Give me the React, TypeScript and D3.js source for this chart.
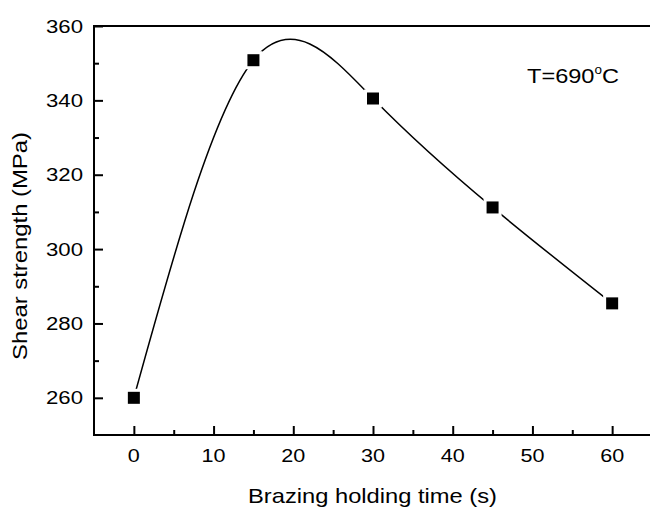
import * as d3 from 'd3';
import React, { useEffect, useRef } from 'react';

const times = [0, 15, 30, 45, 60];
const strength = [260, 350.8, 340.5, 311.2, 285.4];
const xTicks = [0, 10, 20, 30, 40, 50, 60];
const yTicks = [260, 280, 300, 320, 340, 360];

const App = () => {
  const ref = useRef<SVGSVGElement>(null);

  useEffect(() => {
    const width = 650;
    const height = 508;
    const margin = { top: 26, right: -2, bottom: 73, left: 94 };
    const font = 'Arial, "Liberation Sans", sans-serif';

    const svg = d3.select(ref.current);
    svg.selectAll('*').remove();
    svg.attr('width', width).attr('height', height);

    const x = d3.scaleLinear().domain([-5, 65]).range([margin.left, width - margin.right]);
    const y = d3.scaleLinear().domain([250, 360]).range([height - margin.bottom, margin.top]);

    const data = times.map((t, i) => ({ t, v: strength[i] }));

    // spline through the points
    const line = d3.line<{ t: number; v: number }>()
      .x(d => x(d.t))
      .y(d => y(d.v))
      .curve(d3.curveNatural);

    svg.append('path')
      .datum(data)
      .attr('d', line)
      .attr('fill', 'none')
      .attr('stroke', '#000')
      .attr('stroke-width', 1.5);

    // white gaps round the markers, then the markers
    svg.selectAll('rect.gap')
      .data(data)
      .join('rect')
      .attr('class', 'gap')
      .attr('x', d => x(d.t) - 9)
      .attr('y', d => y(d.v) - 9)
      .attr('width', 18)
      .attr('height', 18)
      .attr('fill', '#fff');

    svg.selectAll('rect.mark')
      .data(data)
      .join('rect')
      .attr('class', 'mark')
      .attr('x', d => x(d.t) - 6)
      .attr('y', d => y(d.v) - 6)
      .attr('width', 12)
      .attr('height', 12)
      .attr('fill', '#000');

    // frame
    svg.append('rect')
      .attr('x', margin.left)
      .attr('y', margin.top)
      .attr('width', width - margin.right - margin.left)
      .attr('height', height - margin.bottom - margin.top)
      .attr('fill', 'none')
      .attr('stroke', '#000')
      .attr('stroke-width', 2);

    // x axis
    const gx = svg.append('g').attr('transform', `translate(0, ${height - margin.bottom})`);
    gx.call(d3.axisBottom(x).tickValues(d3.range(-5, 66, 5)).tickFormat(() => ''));
    gx.select('.domain').remove();
    gx.selectAll('.tick').filter((d: any) => d < 0).remove();
    gx.selectAll('.tick line')
      .attr('y2', (d: any) => (d % 10 === 0 ? -9 : -5))
      .attr('stroke-width', 2);
    gx.selectAll('text.lbl')
      .data(xTicks)
      .join('text')
      .attr('class', 'lbl')
      .attr('x', d => x(d))
      .attr('y', 27)
      .attr('text-anchor', 'middle')
      .attr('font-family', font)
      .attr('font-size', 18)
      .attr('fill', '#000')
      .attr('textLength', d => String(d).length * 12)
      .attr('lengthAdjust', 'spacingAndGlyphs')
      .text(d => d);

    // y axis
    const gy = svg.append('g').attr('transform', `translate(${margin.left}, 0)`);
    gy.call(d3.axisLeft(y).tickValues(d3.range(250, 361, 10)).tickFormat(() => ''));
    gy.select('.domain').remove();
    gy.selectAll('.tick').filter((d: any) => d === 250).remove();
    gy.selectAll('.tick line')
      .attr('x2', (d: any) => (d % 20 === 0 ? 9 : 5))
      .attr('stroke-width', 2);
    gy.selectAll('text.lbl')
      .data(yTicks)
      .join('text')
      .attr('class', 'lbl')
      .attr('x', -11)
      .attr('y', d => y(d) + 6.5)
      .attr('text-anchor', 'end')
      .attr('font-family', font)
      .attr('font-size', 18)
      .attr('fill', '#000')
      .attr('textLength', 37)
      .attr('lengthAdjust', 'spacingAndGlyphs')
      .text(d => d);

    // axis titles
    svg.append('text')
      .attr('x', 372.5)
      .attr('y', 503)
      .attr('text-anchor', 'middle')
      .attr('font-family', font)
      .attr('font-size', 21)
      .attr('textLength', 249)
      .attr('lengthAdjust', 'spacingAndGlyphs')
      .text('Brazing holding time (s)');

    svg.append('text')
      .attr('transform', 'translate(27, 246) rotate(-90)')
      .attr('text-anchor', 'middle')
      .attr('font-family', font)
      .attr('font-size', 21)
      .attr('textLength', 228)
      .attr('lengthAdjust', 'spacingAndGlyphs')
      .text('Shear strength (MPa)');

    // annotation
    const note = svg.append('text')
      .attr('x', 527)
      .attr('y', 83)
      .attr('font-family', font)
      .attr('font-size', 21)
      .attr('textLength', 92)
      .attr('lengthAdjust', 'spacingAndGlyphs');
    note.append('tspan').text('T=690');
    note.append('tspan').attr('font-size', 12).attr('dy', -9).text('o');
    note.append('tspan').attr('dy', 9).text('C');
  }, []);

  return (
    <div style={{ position: 'absolute', left: 0, top: 0 }}>
      <svg ref={ref} style={{ display: 'block' }}></svg>
    </div>
  );
};

export default App;
